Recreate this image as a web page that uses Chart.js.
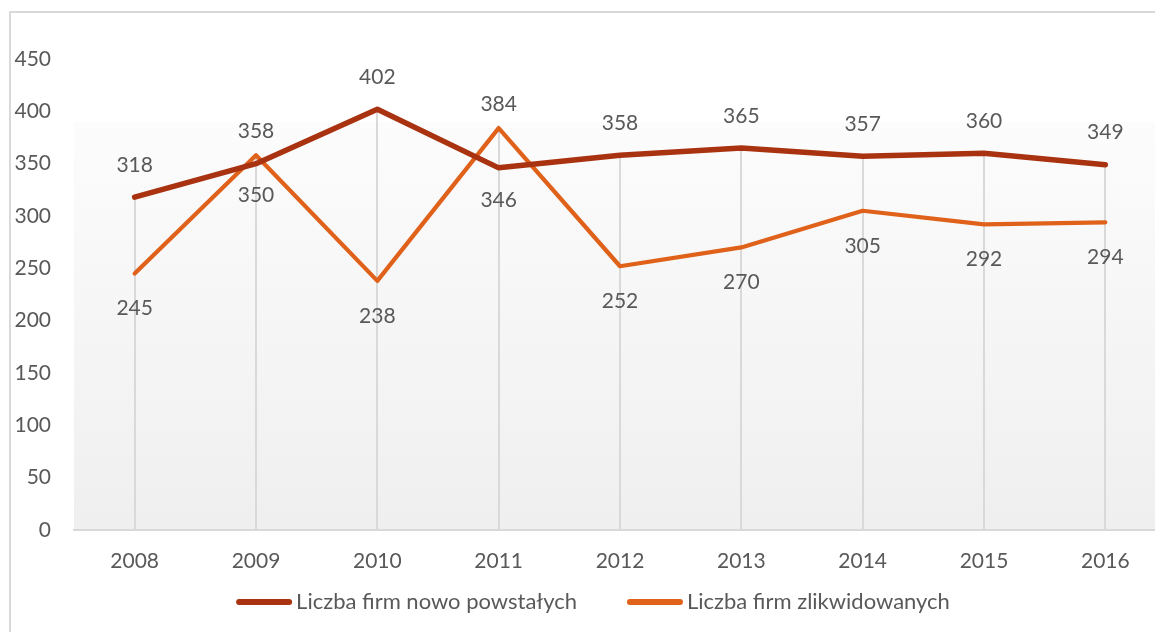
<!DOCTYPE html>
<html>
<head>
<meta charset="utf-8">
<script src="https://cdn.jsdelivr.net/npm/chart.js@4"></script>
<style>
  html, body { margin: 0; padding: 0; background: #ffffff; overflow: hidden; }
  #wrap { position: relative; width: 1180px; height: 632px; }
</style>
</head>
<body>
<div id="wrap"><canvas id="c" width="1180" height="632"></canvas></div>
<script>
const years = ['2008', '2009', '2010', '2011', '2012', '2013', '2014', '2015', '2016'];
const newFirms = [318, 350, 402, 346, 358, 365, 357, 360, 349];
const closedFirms = [245, 358, 238, 384, 252, 270, 305, 292, 294];
const seriesNames = ['Liczba firm nowo powstałych', 'Liczba firm zlikwidowanych'];
const yTicks = [0, 50, 100, 150, 200, 250, 300, 350, 400, 450];

const FONT = 'Lato, "Open Sans", sans-serif';
const TXT = '#595959';
const GRID = '#d9d9d9';

const bgPlugin = {
  id: 'bg',
  beforeDraw(chart) {
    const { ctx, chartArea: a } = chart;
    ctx.save();
    ctx.strokeStyle = GRID;
    ctx.lineWidth = 2;
    ctx.strokeRect(10, 12, chart.width + 20, chart.height + 20);
    const top = a.top + (a.bottom - a.top) * 0.134;
    const g = ctx.createLinearGradient(0, top, 0, a.bottom);
    g.addColorStop(0, '#fcfcfc');
    g.addColorStop(1, '#efefef');
    ctx.fillStyle = g;
    ctx.fillRect(a.left, top, a.right - a.left + 30, a.bottom - top);
    ctx.restore();
  },
  beforeDatasetsDraw(chart) {
    const { ctx, chartArea: a } = chart;
    const metas = chart.data.datasets.map((d, i) => chart.getDatasetMeta(i));
    ctx.save();
    ctx.strokeStyle = GRID;
    ctx.lineWidth = 2;
    for (let i = 0; i < chart.data.labels.length; i++) {
      let minY = Infinity, x = 0;
      metas.forEach(m => { const p = m.data[i]; if (p.y < minY) minY = p.y; x = p.x; });
      ctx.beginPath();
      ctx.moveTo(Math.round(x), minY);
      ctx.lineTo(Math.round(x), a.bottom);
      ctx.stroke();
    }
    ctx.restore();
  },
  afterDatasetsDraw(chart) {
    const { ctx } = chart;
    const ds = chart.data.datasets;
    ctx.save();
    ctx.font = '21px ' + FONT;
    ctx.fillStyle = TXT;
    ctx.textAlign = 'center';
    ctx.textBaseline = 'middle';
    for (let i = 0; i < chart.data.labels.length; i++) {
      const vals = ds.map(d => d.data[i]);
      const maxV = Math.max(...vals);
      const minV = Math.min(...vals);
      const close = (maxV - minV) < 40;
      ds.forEach((d, k) => {
        const p = chart.getDatasetMeta(k).data[i];
        const above = d.data[i] === maxV;
        let y = above ? p.y - 32 : p.y + 35;
        if (close) y = above ? p.y - 24 : p.y + 32;
        ctx.fillText(String(d.data[i]), p.x, y);
      });
    }
    // legend
    const y = 602;
    ctx.font = '22px ' + FONT;
    ctx.textAlign = 'left';
    const lineLen = 56, gapText = 4, gapItem = 50;
    const widths = ds.map(d => ctx.measureText(d.label).width);
    const total = widths.reduce((s, w) => s + lineLen + gapText + w, 0) + gapItem * (ds.length - 1);
    let x = 593 - total / 2;
    ds.forEach((d, k) => {
      ctx.strokeStyle = d.borderColor;
      ctx.lineWidth = 6;
      ctx.lineCap = 'round';
      ctx.beginPath();
      ctx.moveTo(x + 3, y);
      ctx.lineTo(x + lineLen - 3, y);
      ctx.stroke();
      ctx.fillText(d.label, x + lineLen + gapText, y);
      x += lineLen + gapText + widths[k] + gapItem;
    });
    ctx.restore();
  }
};

new Chart(document.getElementById('c'), {
  type: 'line',
  data: {
    labels: years,
    datasets: [
      { label: seriesNames[0], data: newFirms, borderColor: '#A93310', backgroundColor: '#A93310',
        borderWidth: 5.5, pointRadius: 0, tension: 0, borderCapStyle: 'round', borderJoinStyle: 'round' },
      { label: seriesNames[1], data: closedFirms, borderColor: '#DF611A', backgroundColor: '#DF611A',
        borderWidth: 4.2, pointRadius: 0, tension: 0, borderCapStyle: 'round', borderJoinStyle: 'round' }
    ]
  },
  options: {
    responsive: false,
    animation: false,
    layout: { padding: { top: 59, left: 0, right: 14, bottom: 0 } },
    plugins: { legend: { display: false }, tooltip: { enabled: false } },
    scales: {
      x: {
        offset: true,
        grid: { display: false, drawTicks: false },
        border: { display: true, color: GRID, width: 2 },
        ticks: { color: TXT, font: { family: FONT, size: 21 }, padding: 19, maxRotation: 0 },
        afterFit(s) { s.height = 102; }
      },
      y: {
        min: 0, max: 450,
        grid: { display: false, drawTicks: false },
        border: { display: false },
        afterBuildTicks(s) { s.ticks = yTicks.map(v => ({ value: v })); },
        ticks: { color: TXT, font: { family: FONT, size: 21 }, padding: 23, stepSize: 50 },
        afterFit(s) { s.width = 74; }
      }
    }
  },
  plugins: [bgPlugin]
});
</script>
</body>
</html>
